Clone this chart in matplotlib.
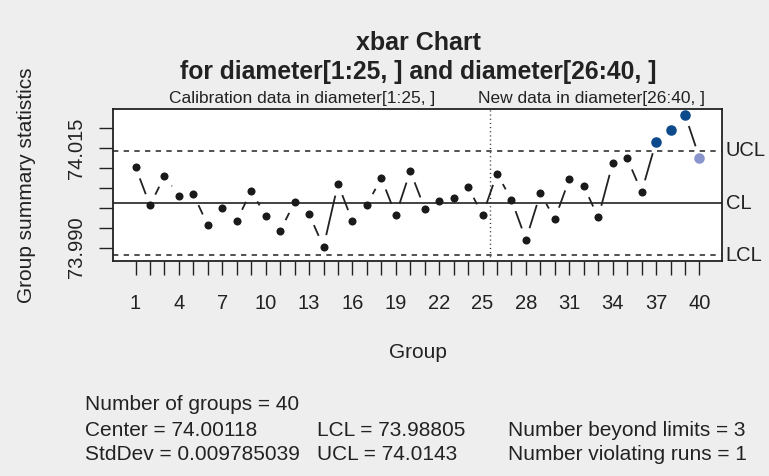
import matplotlib
matplotlib.use("Agg")
import matplotlib.pyplot as plt
from matplotlib.transforms import blended_transform_factory
import numpy as np

plt.rcParams["font.family"] = ["Liberation Sans", "DejaVu Sans"]

# Piston ring diameters: group means (calibration groups 1-25, new groups 26-40)
groups = list(range(1, 41))
group_means = [74.0102, 74.0006, 74.0080, 74.0030, 74.0034, 73.9956, 74.0000, 73.9968,
               74.0042, 73.9980, 73.9942, 74.0014, 73.9984, 73.9902, 74.0060, 73.9966,
               74.0008, 74.0074, 73.9982, 74.0092, 73.9998, 74.0016, 74.0024, 74.0052,
               73.9982,
               74.0086, 74.0020, 73.9920, 74.0036, 73.9972, 74.0072, 74.0054, 73.9976,
               74.0112, 74.0124, 74.0040, 74.0166, 74.0196, 74.0234, 74.0126]
center = 74.00118
lcl = 73.98805
ucl = 74.0143
std_dev = 0.009785039
n_calibration = 25
beyond_limits = [37, 38, 39]
violating_runs = [40]

y_ticks = [73.990, 73.995, 74.000, 74.005, 74.010, 74.015, 74.020]
y_tick_labels = ["73.990", "", "", "", "", "74.015", ""]
x_tick_labels = [str(g) if (g - 1) % 3 == 0 else "" for g in groups]

stats_lines = [
    ("Number of groups = 40", "", ""),
    ("Center = 74.00118", "LCL = 73.98805", "Number beyond limits = 3"),
    ("StdDev = 0.009785039", "UCL = 74.0143", "Number violating runs = 1"),
]

BG = "#EEEEEE"
INK = "#222222"
DARK_BLUE = "#0D4A8B"
LIGHT_BLUE = "#8A94CD"
W, H = 769, 476
BASE = 15.0

fig = plt.figure(figsize=(W / 100, H / 100), dpi=100, facecolor=BG)
ax = fig.add_axes([113 / W, 1 - 261 / H, (722 - 113) / W, (261 - 109) / H])
ax.set_facecolor("white")

# R-style limits: 4% padding around data and control limits
x0, x1 = min(groups), max(groups)
xpad = 0.04 * (x1 - x0)
ax.set_xlim(x0 - xpad, x1 + xpad)
ylo = min(min(group_means), lcl)
yhi = max(max(group_means), ucl)
ypad = 0.04 * (yhi - ylo)
ax.set_ylim(ylo - ypad, yhi + ypad)

# control limits and center line
ax.axhline(center, color=INK, lw=1.2)
ax.axhline(ucl, color="#333333", lw=1.2, ls=(0, (3.2, 3.2)))
ax.axhline(lcl, color="#333333", lw=1.2, ls=(0, (3.2, 3.2)))
ax.axvline(n_calibration + 0.5, color="#333333", lw=1.0, ls=(0, (0.8, 2.2)))

# connecting segments with gaps around the points (type = "b")
gap = 12.0
pts = ax.transData.transform(np.column_stack([groups, group_means]))
inv = ax.transData.inverted()
for p0, p1 in zip(pts[:-1], pts[1:]):
    d = p1 - p0
    length = np.hypot(d[0], d[1])
    if length > 2 * gap:
        u = d / length
        seg = inv.transform(np.array([p0 + u * gap, p1 - u * gap]))
        ax.plot(seg[:, 0], seg[:, 1], color=INK, lw=1.3, solid_capstyle="butt")

# points
for g, m in zip(groups, group_means):
    if g in beyond_limits:
        ax.plot(g, m, "o", ms=7.6, color=DARK_BLUE, mec="none", zorder=5)
    elif g in violating_runs:
        ax.plot(g, m, "o", ms=7.6, color=LIGHT_BLUE, mec="none", zorder=5)
    else:
        ax.plot(g, m, "o", ms=5.8, color="#1A1A1A", mec="none", zorder=5)

# axes styling
for s in ax.spines.values():
    s.set_color(INK)
    s.set_linewidth(1.3)
ax.set_xticks(groups)
ax.set_xticklabels(x_tick_labels, fontsize=14.5, color=INK)
ax.set_yticks(y_ticks)
ax.set_yticklabels(y_tick_labels, fontsize=14.5, color=INK, rotation=90, va="center")
ax.tick_params(axis="x", length=10, width=1.0, color=INK, pad=14)
ax.tick_params(axis="y", length=10, width=1.0, color=INK, pad=9.5)

# control limit labels at the right
tr = blended_transform_factory(ax.transAxes, ax.transData)
for lab, val in (("UCL", ucl), ("CL", center), ("LCL", lcl)):
    ax.text(1.006, val, lab, transform=tr, ha="left", va="center", fontsize=14.5,
            color=INK, clip_on=False)

# group annotations above the plot
trx = blended_transform_factory(ax.transData, ax.transAxes)
ax.text(12.5, 1.072, "Calibration data in diameter[1:25, ]", transform=trx,
        ha="center", va="center", fontsize=12.5, color=INK)
ax.text(32.5, 1.072, "New data in diameter[26:40, ]", transform=trx,
        ha="center", va="center", fontsize=12.5, color=INK)

# titles and axis labels
fig.text(418 / W, 1 - 43 / H, "xbar Chart", ha="center", va="center",
         fontsize=18, fontweight="bold", color=INK)
fig.text(418 / W, 1 - 72 / H, "for diameter[1:25, ] and diameter[26:40, ]",
         ha="center", va="center", fontsize=17.8, fontweight="bold", color=INK)
fig.text(418 / W, 1 - 352 / H, "Group", ha="center", va="center", fontsize=BASE, color=INK)
fig.text(27 / W, 1 - 185 / H, "Group summary statistics", ha="center", va="center",
         rotation=90, fontsize=BASE, color=INK)

# summary statistics block
col_x = [85, 317, 508]
row_y = [404, 430, 455]
for row, yy in zip(stats_lines, row_y):
    for txt, xx in zip(row, col_x):
        if txt:
            fig.text(xx / W, 1 - yy / H, txt, ha="left", va="center", fontsize=BASE, color=INK)

fig.savefig("out.png", dpi=100, facecolor=BG)
